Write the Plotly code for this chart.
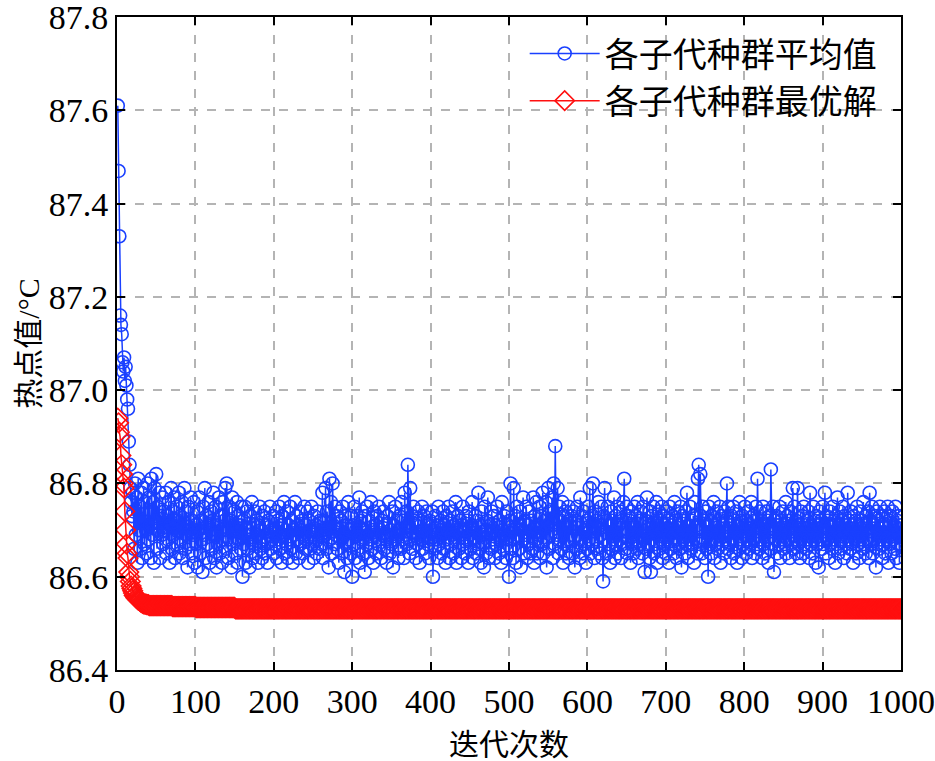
import plotly.graph_objects as go

# ---- data ----
blue_head = [87.61, 87.47, 87.33, 87.16, 87.14, 87.12, 87.06, 87.04, 87.07, 87.02,
             87.05, 87.01, 86.98, 86.96, 86.89, 86.84, 86.79, 86.76, 86.73, 86.78]
blue_body = [
    86.74, 86.66, 86.80, 86.69, 86.77, 86.63, 86.81, 86.70, 86.75, 86.66, 86.78, 86.64, 86.72, 86.79, 86.67, 86.76, 86.70, 86.65, 86.80, 86.68,
    86.77, 86.71, 86.64, 86.81, 86.69, 86.76, 86.63, 86.79, 86.72, 86.82, 86.66, 86.75, 86.70, 86.78, 86.64, 86.73, 86.69, 86.77, 86.67, 86.74,
    86.70, 86.78, 86.65, 86.73, 86.68, 86.76, 86.63, 86.71, 86.79, 86.66, 86.74, 86.69, 86.77, 86.64, 86.72, 86.75, 86.67, 86.70, 86.78, 86.65,
    86.73, 86.68, 86.76, 86.64, 86.71, 86.79, 86.66, 86.74, 86.69, 86.62, 86.75, 86.70, 86.67, 86.77, 86.65, 86.72, 86.69, 86.76, 86.63, 86.71,
    86.67, 86.74, 86.62, 86.70, 86.77, 86.65, 86.72, 86.68, 86.61, 86.75, 86.69, 86.79, 86.64, 86.73, 86.67, 86.71, 86.76, 86.63, 86.70, 86.74,
    86.66, 86.72, 86.78, 86.64, 86.69, 86.75, 86.62, 86.71, 86.67, 86.77, 86.65, 86.73, 86.70, 86.63, 86.76, 86.68, 86.72, 86.79, 86.66, 86.80,
    86.70, 86.64, 86.75, 86.68, 86.72, 86.62, 86.77, 86.67, 86.71, 86.74, 86.65, 86.70, 86.76, 86.63, 86.73, 86.68, 86.71, 86.66, 86.75, 86.60,
    86.72, 86.67, 86.75, 86.63, 86.70, 86.74, 86.66, 86.69, 86.62, 86.73, 86.68, 86.76, 86.64, 86.71, 86.67, 86.74, 86.65, 86.72, 86.69, 86.63,
    86.71, 86.75, 86.66, 86.70, 86.64, 86.73, 86.68, 86.74, 86.65, 86.71, 86.67, 86.63, 86.72, 86.69, 86.75, 86.66, 86.70, 86.68, 86.73, 86.65,
    86.70, 86.67, 86.74, 86.64, 86.72, 86.68, 86.75, 86.66, 86.71, 86.63, 86.73, 86.69, 86.76, 86.65, 86.70, 86.67, 86.74, 86.64, 86.71, 86.68,
    86.75, 86.66, 86.72, 86.63, 86.70, 86.69, 86.76, 86.65, 86.73, 86.68, 86.71, 86.64, 86.74, 86.67, 86.70, 86.72, 86.65, 86.69, 86.75, 86.66,
    86.71, 86.68, 86.74, 86.63, 86.72, 86.66, 86.70, 86.75, 86.67, 86.69, 86.64, 86.73, 86.68, 86.71, 86.65, 86.74, 86.70, 86.66, 86.72, 86.69,
    86.67, 86.78, 86.64, 86.72, 86.69, 86.79, 86.66, 86.74, 86.70, 86.62, 86.81, 86.68, 86.76, 86.65, 86.80, 86.71, 86.67, 86.75, 86.69, 86.73,
    86.66, 86.70, 86.63, 86.74, 86.68, 86.72, 86.65, 86.75, 86.69, 86.61, 86.73, 86.67, 86.71, 86.64, 86.76, 86.68, 86.70, 86.65, 86.73, 86.60,
    86.71, 86.67, 86.75, 86.64, 86.70, 86.73, 86.66, 86.69, 86.77, 86.63, 86.72, 86.68, 86.74, 86.65, 86.70, 86.61, 86.73, 86.67, 86.75, 86.69,
    86.64, 86.72, 86.68, 86.76, 86.66, 86.70, 86.63, 86.74, 86.69, 86.71, 86.65, 86.73, 86.67, 86.75, 86.68, 86.70, 86.64, 86.72, 86.69, 86.74,
    86.66, 86.71, 86.68, 86.63, 86.73, 86.69, 86.76, 86.65, 86.70, 86.67, 86.74, 86.62, 86.71, 86.68, 86.75, 86.66, 86.72, 86.69, 86.64, 86.73,
    86.70, 86.66, 86.76, 86.68, 86.72, 86.64, 86.78, 86.69, 86.74, 86.67, 86.84, 86.71, 86.65, 86.79, 86.68, 86.73, 86.66, 86.75, 86.69, 86.72,
    86.64, 86.71, 86.67, 86.74, 86.69, 86.63, 86.72, 86.68, 86.75, 86.66, 86.70, 86.73, 86.65, 86.69, 86.74, 86.67, 86.71, 86.64, 86.72, 86.68,
    86.70, 86.74, 86.60, 86.69, 86.66, 86.73, 86.68, 86.71, 86.64, 86.75, 86.67, 86.70, 86.72, 86.65, 86.69, 86.74, 86.66, 86.71, 86.63, 86.73,
    86.68, 86.70, 86.75, 86.64, 86.72, 86.67, 86.69, 86.74, 86.65, 86.71, 86.68, 86.76, 86.63, 86.70, 86.73, 86.66, 86.72, 86.69, 86.64, 86.71,
    86.75, 86.67, 86.70, 86.65, 86.73, 86.68, 86.72, 86.63, 86.74, 86.69, 86.66, 86.71, 86.76, 86.64, 86.70, 86.68, 86.73, 86.65, 86.72, 86.67,
    86.78, 86.66, 86.71, 86.63, 86.74, 86.69, 86.67, 86.62, 86.75, 86.70, 86.65, 86.72, 86.77, 86.64, 86.69, 86.71, 86.66, 86.74, 86.68, 86.70,
    86.73, 86.64, 86.71, 86.67, 86.75, 86.69, 86.65, 86.72, 86.68, 86.63, 86.76, 86.70, 86.66, 86.73, 86.69, 86.64, 86.74, 86.68, 86.71, 86.60,
    86.72, 86.80, 86.66, 86.70, 86.64, 86.79, 86.68, 86.73, 86.63, 86.75, 86.69, 86.71, 86.66, 86.74, 86.62, 86.70, 86.68, 86.77, 86.65, 86.72,
    86.69, 86.75, 86.64, 86.71, 86.67, 86.74, 86.65, 86.72, 86.70, 86.66, 86.77, 86.63, 86.73, 86.68, 86.76, 86.65, 86.71, 86.69, 86.75, 86.64,
    86.73, 86.67, 86.78, 86.65, 86.72, 86.68, 86.76, 86.62, 86.71, 86.79, 86.66, 86.74, 86.69, 86.72, 86.77, 86.64, 86.80, 86.67, 86.88, 86.73,
    86.69, 86.79, 86.65, 86.75, 86.68, 86.72, 86.66, 86.76, 86.63, 86.73, 86.67, 86.74, 86.65, 86.71, 86.68, 86.75, 86.64, 86.72, 86.69, 86.73,
    86.65, 86.74, 86.68, 86.62, 86.72, 86.66, 86.75, 86.69, 86.71, 86.64, 86.77, 86.68, 86.73, 86.65, 86.74, 86.67, 86.70, 86.63, 86.72, 86.66,
    86.75, 86.68, 86.79, 86.65, 86.73, 86.67, 86.80, 86.71, 86.64, 86.74, 86.68, 86.72, 86.66, 86.76, 86.65, 86.71, 86.69, 86.75, 86.64, 86.59,
    86.73, 86.79, 86.68, 86.72, 86.65, 86.75, 86.67, 86.71, 86.63, 86.74, 86.66, 86.72, 86.68, 86.77, 86.64, 86.73, 86.67, 86.75, 86.65, 86.71,
    86.68, 86.74, 86.64, 86.72, 86.67, 86.76, 86.81, 86.69, 86.66, 86.75, 86.65, 86.73, 86.68, 86.72, 86.63, 86.74, 86.67, 86.71, 86.65, 86.75,
    86.68, 86.73, 86.66, 86.76, 86.64, 86.72, 86.67, 86.74, 86.69, 86.65, 86.75, 86.68, 86.61, 86.72, 86.66, 86.77, 86.67, 86.71, 86.64, 86.74,
    86.61, 86.73, 86.68, 86.75, 86.65, 86.72, 86.67, 86.76, 86.63, 86.71, 86.74, 86.66, 86.72, 86.68, 86.75, 86.64, 86.73, 86.67, 86.71, 86.65,
    86.74, 86.68, 86.72, 86.63, 86.75, 86.66, 86.71, 86.67, 86.73, 86.65, 86.76, 86.68, 86.72, 86.64, 86.74, 86.67, 86.71, 86.66, 86.75, 86.62,
    86.73, 86.68, 86.72, 86.65, 86.74, 86.67, 86.78, 86.64, 86.71, 86.68, 86.75, 86.66, 86.72, 86.67, 86.73, 86.63, 86.76, 86.68, 86.71, 86.65,
    86.81, 86.84, 86.67, 86.82, 86.73, 86.65, 86.75, 86.68, 86.72, 86.64, 86.74, 86.66, 86.71, 86.60, 86.75, 86.67, 86.72, 86.65, 86.73, 86.68,
    86.76, 86.64, 86.71, 86.67, 86.74, 86.66, 86.72, 86.68, 86.75, 86.63, 86.73, 86.67, 86.71, 86.65, 86.74, 86.68, 86.72, 86.80, 86.66, 86.75,
    86.67, 86.71, 86.64, 86.73, 86.68, 86.75, 86.65, 86.72, 86.67, 86.74, 86.63, 86.71, 86.66, 86.76, 86.68, 86.72, 86.64, 86.73, 86.67, 86.71,
    86.75, 86.65, 86.72, 86.68, 86.74, 86.66, 86.71, 86.67, 86.76, 86.64, 86.73, 86.68, 86.72, 86.65, 86.75, 86.67, 86.81, 86.71, 86.66, 86.74,
    86.68, 86.72, 86.64, 86.75, 86.67, 86.71, 86.65, 86.74, 86.68, 86.72, 86.63, 86.73, 86.66, 86.83, 86.71, 86.67, 86.75, 86.61, 86.72, 86.68,
    86.73, 86.65, 86.71, 86.67, 86.75, 86.64, 86.72, 86.68, 86.74, 86.66, 86.71, 86.67, 86.76, 86.65, 86.73, 86.68, 86.72, 86.64, 86.74, 86.67,
    86.71, 86.79, 86.66, 86.75, 86.68, 86.72, 86.65, 86.79, 86.67, 86.71, 86.64, 86.74, 86.68, 86.73, 86.65, 86.75, 86.67, 86.71, 86.66, 86.72,
    86.68, 86.74, 86.64, 86.78, 86.67, 86.71, 86.65, 86.75, 86.68, 86.72, 86.63, 86.73, 86.67, 86.71, 86.62, 86.74, 86.68, 86.72, 86.66, 86.75,
    86.67, 86.71, 86.78, 86.65, 86.73, 86.68, 86.72, 86.64, 86.74, 86.67, 86.71, 86.66, 86.75, 86.68, 86.72, 86.63, 86.73, 86.67, 86.77, 86.65,
    86.71, 86.74, 86.66, 86.72, 86.68, 86.75, 86.64, 86.73, 86.67, 86.71, 86.65, 86.78, 86.68, 86.72, 86.66, 86.74, 86.67, 86.71, 86.63, 86.73,
    86.68, 86.72, 86.65, 86.75, 86.67, 86.71, 86.64, 86.74, 86.68, 86.72, 86.66, 86.76, 86.67, 86.71, 86.65, 86.73, 86.68, 86.74, 86.64, 86.78,
    86.72, 86.67, 86.75, 86.65, 86.71, 86.68, 86.73, 86.62, 86.74, 86.67, 86.72, 86.66, 86.75, 86.68, 86.71, 86.64, 86.73, 86.67, 86.74, 86.65,
    86.71, 86.68, 86.75, 86.63, 86.72, 86.67, 86.73, 86.65, 86.74, 86.68, 86.71, 86.66, 86.75, 86.64, 86.72, 86.67, 86.73, 86.63, 86.71, 86.67,
]
blue = blue_head + blue_body

red_head = [86.94, 86.93, 86.91, 86.90, 86.86, 86.84, 86.82, 86.80, 86.79, 86.74,
            86.70, 86.67, 86.65, 86.64, 86.61, 86.60, 86.59, 86.58, 86.575, 86.57,
            86.565, 86.56, 86.56, 86.555, 86.555, 86.552, 86.55, 86.55, 86.548, 86.546,
            86.545, 86.544, 86.543, 86.542, 86.542, 86.541, 86.541, 86.540, 86.540, 86.540]
red_mid = [86.538] * 30 + [86.536] * 30 + [86.534] * 50
red_tail = [86.531] * (len(blue) - len(red_head) - len(red_mid))
red = red_head + red_mid + red_tail

iters = list(range(1, len(blue) + 1))

names = ["各子代种群平均值", "各子代种群最优解"]
x_ticks = [0, 100, 200, 300, 400, 500, 600, 700, 800, 900, 1000]
y_ticks = [86.4, 86.6, 86.8, 87.0, 87.2, 87.4, 87.6, 87.8]

BLUE = "#1a40ff"
RED = "#ff1010"
NUMFONT = "Liberation Serif"
TXTFONT = "Liberation Serif, Noto Sans CJK SC"

fig = go.Figure()
fig.add_trace(go.Scatter(
    x=iters, y=blue, name=names[0], mode="lines+markers",
    line=dict(color=BLUE, width=1.5),
    marker=dict(symbol="circle-open", size=13, color=BLUE, line=dict(width=1.6, color=BLUE)),
))
fig.add_trace(go.Scatter(
    x=iters, y=red, name=names[1], mode="lines+markers",
    line=dict(color=RED, width=1.5),
    marker=dict(symbol="diamond-open", size=15, color=RED, line=dict(width=1.6, color=RED)),
))

axis_common = dict(
    showline=True, linecolor="black", linewidth=2, mirror="ticks",
    ticks="inside", ticklen=8, tickwidth=2, tickcolor="black",
    showgrid=True, gridcolor="#b4b4b4", gridwidth=2, griddash="dash",
    zeroline=False, automargin=False, ticklabeloverflow="allow",
    tickfont=dict(family=NUMFONT, size=34, color="black"),
)

fig.update_xaxes(range=[0, 1000.01], tickvals=x_ticks,
                 title=dict(text="迭代次数", font=dict(family=TXTFONT, size=30, color="black"), standoff=16),
                 **axis_common)
fig.update_yaxes(range=[86.4, 87.8001], tickvals=y_ticks, tickformat=".1f",
                 title=dict(text="热点值/°C", font=dict(family=TXTFONT, size=30, color="black"), standoff=0),
                 **axis_common)

fig.update_layout(
    width=935, height=761,
    margin=dict(l=117, r=34, t=17, b=91),
    paper_bgcolor="white", plot_bgcolor="white",
    showlegend=True,
    legend=dict(x=0.52, y=0.988, xanchor="left", yanchor="top",
                bgcolor="rgba(0,0,0,0)", borderwidth=0,
                font=dict(family=TXTFONT, size=34, color="black"),
                itemwidth=70, tracegroupgap=0),
)

fig.write_html("out.html", config={"displayModeBar": False},
               post_script="document.body.style.margin='0px';document.body.style.padding='0px';")
